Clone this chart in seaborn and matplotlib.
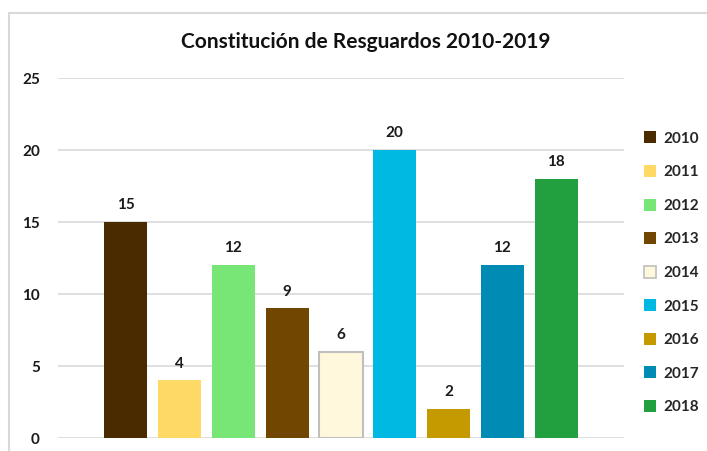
import matplotlib
matplotlib.use("Agg")
import matplotlib.pyplot as plt
import seaborn as sns
import pandas as pd
from matplotlib.lines import Line2D

years = ["2010", "2011", "2012", "2013", "2014", "2015", "2016", "2017", "2018"]
resguardos = [15, 4, 12, 9, 6, 20, 2, 12, 18]
colors = ["#4A2B00", "#FFD966", "#77E677", "#704600", "#FFF8DC",
          "#00B9E3", "#C49A00", "#008BB5", "#229F3E"]
title = "Constitución de Resguardos 2010-2019"

sns.set_style("white")
plt.rcParams['font.family'] = ['Lato', 'DejaVu Sans']

df = pd.DataFrame({"year": years, "n": resguardos})

fig = plt.figure(figsize=(7.07, 4.51), dpi=100)
ax = fig.add_axes([58 / 707, 1 - 438 / 451, 566 / 707, 360 / 451])

sns.barplot(data=df, x="year", y="n", hue="year", palette=colors,
            width=0.8, legend=False, ax=ax, saturation=1)

# light edge only on the pale bar
for i, p in enumerate(ax.patches):
    if years[i] == "2014":
        p.set_edgecolor("#BFBFBF")
        p.set_linewidth(1.5)
    else:
        p.set_edgecolor("none")

for c in ax.containers:
    ax.bar_label(c, fmt="%d", padding=7, fontsize=11, fontweight="bold",
                 color="#1a1a1a")

ax.set_xlim(-1.26, 9.26)
ax.set_ylim(0, 25)
ax.set_yticks([0, 5, 10, 15, 20, 25])
ax.set_xticks([])
ax.set_xlabel("")
ax.set_ylabel("")
ax.yaxis.grid(True, color="#D9D9D9", linewidth=1.2)
ax.set_axisbelow(True)
for s in ax.spines.values():
    s.set_visible(False)
ax.tick_params(axis="y", length=0, pad=13, labelsize=11)
for t in ax.get_yticklabels():
    t.set_fontweight("bold")
    t.set_color("#1a1a1a")

fig.text(0.518, 1 - 42 / 451, title, ha="center", va="center",
         fontsize=15, fontweight="bold", color="#111111")

handles = [Line2D([0], [0], marker="s", linestyle="none", markersize=9,
                  markerfacecolor=col,
                  markeredgecolor="#BFBFBF" if y == "2014" else col,
                  markeredgewidth=1.2 if y == "2014" else 0)
           for y, col in zip(years, colors)]
leg = fig.legend(handles, years, loc="upper left",
                 bbox_to_anchor=(630 / 707, 1 - 118 / 451), frameon=False,
                 labelspacing=1.28, handlelength=0.8, handletextpad=0.5,
                 prop={"weight": "bold", "size": 11})

# chart border like the spreadsheet frame
fig.add_artist(plt.Rectangle((9 / 707, -0.1), 1.1, 1 - 13 / 451 + 0.1,
                             transform=fig.transFigure, fill=False,
                             edgecolor="#D9D9D9", linewidth=1.5))

fig.savefig("out.png", dpi=100)
